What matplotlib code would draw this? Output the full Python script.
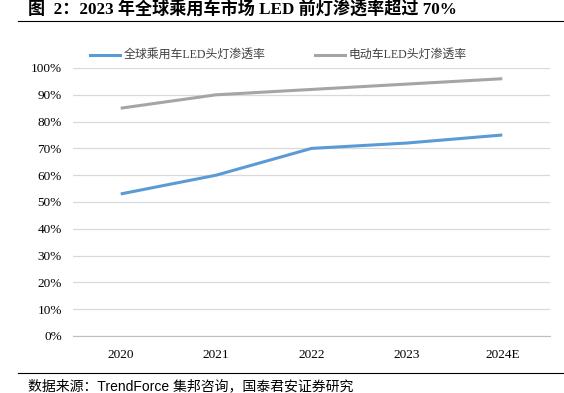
import matplotlib
matplotlib.use("Agg")
import matplotlib.pyplot as plt
from matplotlib.lines import Line2D

years = ["2020", "2021", "2022", "2023", "2024E"]
global_led = [53, 60, 70, 72, 75]
ev_led = [85, 90, 92, 94, 96]
yticks = [0, 10, 20, 30, 40, 50, 60, 70, 80, 90, 100]

serif = ["Liberation Serif", "Noto Sans CJK SC"]
sans = ["Liberation Sans", "Noto Sans CJK SC"]

fig = plt.figure(figsize=(5.64, 3.93), dpi=100)
W, H = 564, 393
ax = fig.add_axes([73 / W, 1 - 336 / H, (550 - 73) / W, (336 - 68) / H])

x = list(range(len(years)))
ax.plot(x, global_led, color="#5B9BD5", lw=2.2, solid_capstyle="butt")
ax.plot(x, ev_led, color="#A5A5A5", lw=2.2, solid_capstyle="butt")

ax.set_xlim(-0.5, len(years) - 0.5)
ax.set_ylim(0, 100)
ax.set_yticks(yticks)
ax.set_yticklabels([f"{v}%" for v in yticks], family=serif, fontsize=9.5)
ax.set_xticks(x)
ax.set_xticklabels(years, family=serif, fontsize=9.5)
ax.grid(axis="y", color="#D9D9D9", lw=0.9)
ax.set_axisbelow(True)
for s in ["top", "right", "left"]:
    ax.spines[s].set_visible(False)
ax.spines["bottom"].set_color("#BFBFBF")
ax.tick_params(axis="y", length=0, pad=8)
ax.tick_params(axis="x", length=0, pad=9)

# legend
fig.add_artist(Line2D([90 / W, 120 / W], [1 - 55 / H] * 2, color="#5B9BD5", lw=2.2))
fig.text(124 / W, 1 - 55 / H, "全球乘用车LED头灯渗透率", family=serif, fontsize=8.6,
         va="center", ha="left", color="#404040")
fig.add_artist(Line2D([315 / W, 345 / W], [1 - 55 / H] * 2, color="#A5A5A5", lw=2.2))
fig.text(349 / W, 1 - 55 / H, "电动车LED头灯渗透率", family=serif, fontsize=8.6,
         va="center", ha="left", color="#404040")

# title
fig.text(28 / W, 1 - 9 / H, "图  2：2023 年全球乘用车市场 LED 前灯渗透率超过 70%",
         family=serif, fontsize=12.3, fontweight="bold", va="center", ha="left")
fig.add_artist(Line2D([18 / W, 1.0], [1 - 20.5 / H] * 2, color="black", lw=0.8))

# source
fig.add_artist(Line2D([18 / W, 1.0], [1 - 373 / H] * 2, color="black", lw=0.8))
fig.text(28 / W, 1 - 386 / H, "数据来源：TrendForce 集邦咨询，国泰君安证券研究",
         family=sans, fontsize=10, va="center", ha="left")

fig.savefig("out.png", dpi=100)
